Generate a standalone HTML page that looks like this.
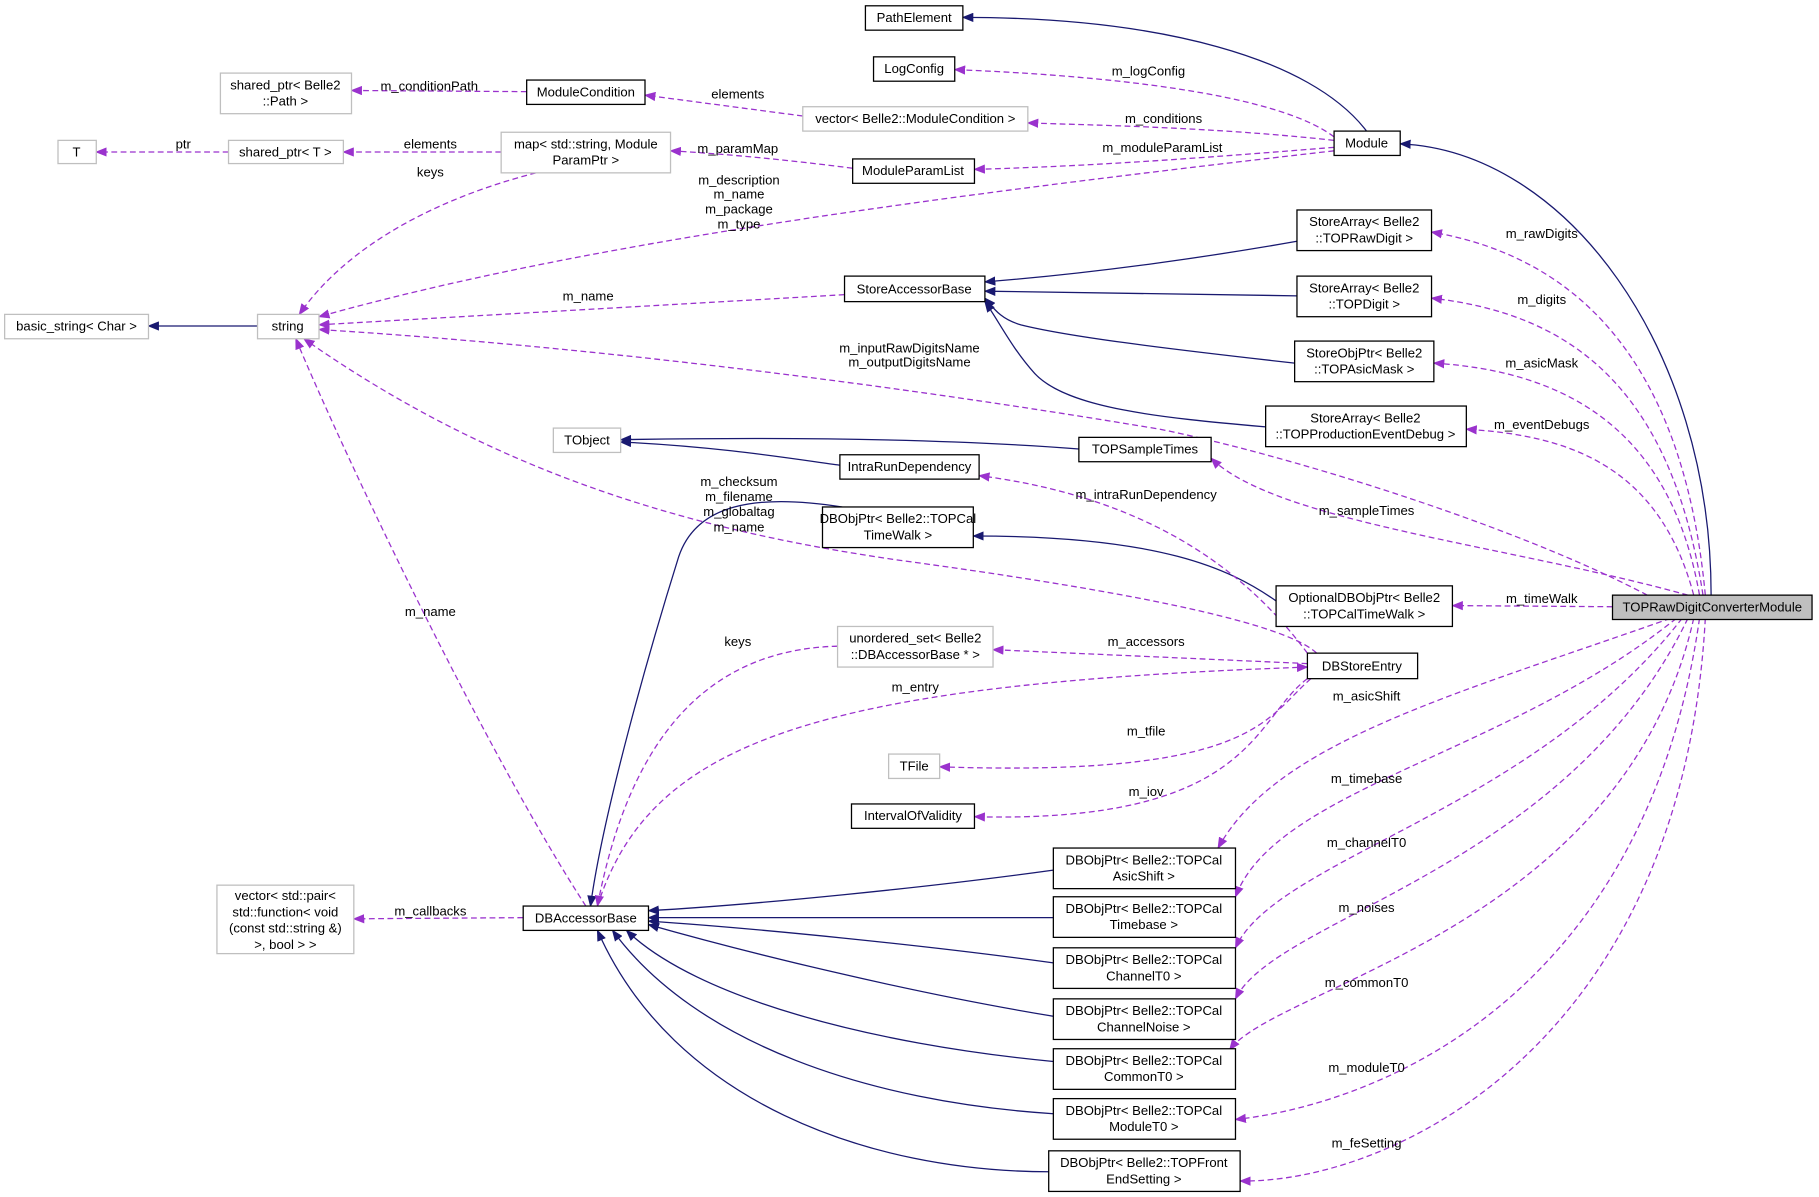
<!DOCTYPE html>
<html><head><meta charset="utf-8"><style>
html,body{margin:0;padding:0;background:#fff;}
svg{display:block;}
text{font-family:"Liberation Sans",sans-serif;font-size:11.3px;fill:#000;text-anchor:middle;}
.b{fill:#fff;stroke:#000;stroke-width:1.1;}
.g{fill:#fff;stroke:#bfbfbf;stroke-width:1.1;}
.n{fill:none;stroke:#191970;stroke-width:1.1;}
.p{fill:none;stroke:#9a32cd;stroke-width:1.1;stroke-dasharray:5,3;}
</style></head><body>
<svg width="1819" height="1197" viewBox="0 0 1568 1031.8" preserveAspectRatio="none" xmlns="http://www.w3.org/2000/svg">
<defs>
<marker id="an" markerWidth="10" markerHeight="8" refX="9" refY="4" orient="auto" markerUnits="userSpaceOnUse"><path d="M0,0 L10,4 L0,8 z" fill="#191970"/></marker>
<marker id="ap" markerWidth="10" markerHeight="8" refX="9" refY="4" orient="auto" markerUnits="userSpaceOnUse"><path d="M0,0 L10,4 L0,8 z" fill="#9a32cd"/></marker>
</defs>
<g class="n" marker-end="url(#an)">
<path d="M1178,113 C1130,50 1000,15 830,15"/>
<path d="M1475,513 C1475,300 1350,130 1207,124"/>
<path d="M1118,208 C1050,220 950,235 849,243"/>
<path d="M1118,255 L849,251"/>
<path d="M1116,313 C1000,300 920,290 880,280 C862,275 856,265 849,257"/>
<path d="M1091,368 C1000,360 920,352 892,322 C872,300 860,275 849,260"/>
<path d="M930,387 C800,377 650,377 535,379"/>
<path d="M724,401 C680,395 620,385 535,381"/>
<path d="M1100,518 C1060,490 1000,462 839,462"/>
<path d="M726,437 C650,425 600,435 585,480 C560,560 520,700 509,781"/>
<path d="M908,750 C800,765 650,780 559,785"/>
<path d="M908,791 L559,791"/>
<path d="M908,830 C800,815 650,800 559,794"/>
<path d="M908,876 C780,855 640,820 559,797"/>
<path d="M908,915 C750,900 600,860 540,802"/>
<path d="M908,960 C750,950 600,900 528,802"/>
<path d="M904,1010 C750,1010 580,950 515,802"/>
<path d="M222,281 L128,281"/>
</g>
<g class="p" marker-end="url(#ap)">
<path d="M1150,118 C1100,80 950,65 823,60"/>
<path d="M1150,121 C1050,110 950,108 886,106"/>
<path d="M692,100 L556,82"/>
<path d="M454,79 L303,78"/>
<path d="M1150,127 C1050,135 950,143 840,146"/>
<path d="M735,145 C680,138 630,133 578,130"/>
<path d="M432,131 L296,131"/>
<path d="M197,131 L83,131"/>
<path d="M462,149 C380,170 300,210 258,271"/>
<path d="M1150,130 C800,170 500,210 275,273"/>
<path d="M728,254 L275,280"/>
<path d="M1420,513 C1300,450 1100,390 1000,370 C700,320 450,295 275,284"/>
<path d="M1135,563 C1100,530 900,500 776,483 C600,458 430,410 262,292"/>
<path d="M505,781 C420,650 300,400 255,292"/>
<path d="M1470,513 C1450,300 1350,220 1234,200"/>
<path d="M1468,513 C1440,330 1350,270 1234,257"/>
<path d="M1465,513 C1440,370 1350,320 1236,313"/>
<path d="M1460,513 C1430,400 1350,375 1264,370"/>
<path d="M1455,513 C1300,470 1100,450 1044,395"/>
<path d="M1390,523 L1252,522"/>
<path d="M1127,563 C1080,500 1000,430 844,410"/>
<path d="M1127,572 L856,560"/>
<path d="M722,557 C600,560 540,650 515,781"/>
<path d="M515,781 C560,640 700,590 1127,575"/>
<path d="M1130,585 C1090,620 1080,670 810,661"/>
<path d="M1127,585 C1080,620 1080,710 840,704"/>
<path d="M451,791 L305,792"/>
<path d="M1440,533 C1250,600 1100,640 1050,731"/>
<path d="M1445,533 C1300,650 1100,680 1065,773"/>
<path d="M1450,533 C1320,700 1100,740 1065,817"/>
<path d="M1455,533 C1350,750 1100,790 1065,861"/>
<path d="M1460,533 C1400,800 1100,850 1060,905"/>
<path d="M1465,533 C1420,850 1200,950 1065,965"/>
<path d="M1470,533 C1450,900 1200,1020 1069,1018"/>
</g>
<rect class="b" x="746" y="5" width="84" height="21"/><text x="788" y="19">PathElement</text>
<rect class="b" x="753" y="49" width="70" height="21"/><text x="788" y="63">LogConfig</text>
<rect class="b" x="454" y="69" width="102" height="21"/><text x="505" y="83">ModuleCondition</text>
<rect class="g" x="190" y="63" width="113" height="35"/><text x="246" y="77">shared_ptr&lt; Belle2</text><text x="246" y="91">::Path &gt;</text>
<rect class="g" x="692" y="92" width="194" height="21"/><text x="789" y="106">vector&lt; Belle2::ModuleCondition &gt;</text>
<rect class="g" x="50" y="121" width="33" height="20"/><text x="66" y="135">T</text>
<rect class="g" x="197" y="121" width="99" height="20"/><text x="246" y="135">shared_ptr&lt; T &gt;</text>
<rect class="g" x="432" y="114" width="146" height="35"/><text x="505" y="128">map&lt; std::string, Module</text><text x="505" y="142">ParamPtr &gt;</text>
<rect class="b" x="735" y="137" width="105" height="21"/><text x="787" y="151">ModuleParamList</text>
<rect class="b" x="1150" y="113" width="57" height="21"/><text x="1178" y="127">Module</text>
<rect class="b" x="1118" y="181" width="116" height="35"/><text x="1176" y="195">StoreArray&lt; Belle2</text><text x="1176" y="209">::TOPRawDigit &gt;</text>
<rect class="b" x="728" y="238" width="121" height="22"/><text x="788" y="253">StoreAccessorBase</text>
<rect class="b" x="1118" y="238" width="116" height="35"/><text x="1176" y="252">StoreArray&lt; Belle2</text><text x="1176" y="266">::TOPDigit &gt;</text>
<rect class="g" x="4" y="271" width="124" height="21"/><text x="66" y="285">basic_string&lt; Char &gt;</text>
<rect class="g" x="222" y="271" width="53" height="21"/><text x="248" y="285">string</text>
<rect class="b" x="1116" y="294" width="120" height="35"/><text x="1176" y="308">StoreObjPtr&lt; Belle2</text><text x="1176" y="322">::TOPAsicMask &gt;</text>
<rect class="b" x="1091" y="350" width="173" height="35"/><text x="1177" y="364">StoreArray&lt; Belle2</text><text x="1177" y="378">::TOPProductionEventDebug &gt;</text>
<rect class="g" x="477" y="369" width="58" height="21"/><text x="506" y="383">TObject</text>
<rect class="b" x="930" y="377" width="114" height="21"/><text x="987" y="391">TOPSampleTimes</text>
<rect class="b" x="724" y="392" width="120" height="21"/><text x="784" y="406">IntraRunDependency</text>
<rect class="b" x="709" y="437" width="130" height="35"/><text x="774" y="451">DBObjPtr&lt; Belle2::TOPCal</text><text x="774" y="465">TimeWalk &gt;</text>
<rect class="b" x="1100" y="505" width="152" height="35"/><text x="1176" y="519">OptionalDBObjPtr&lt; Belle2</text><text x="1176" y="533">::TOPCalTimeWalk &gt;</text>
<rect x="1390" y="513" width="172" height="21" fill="#bfbfbf" stroke="#000" stroke-width="1.1"/><text x="1476" y="527">TOPRawDigitConverterModule</text>
<rect class="g" x="722" y="540" width="134" height="35"/><text x="789" y="554">unordered_set&lt; Belle2</text><text x="789" y="568">::DBAccessorBase * &gt;</text>
<rect class="b" x="1127" y="563" width="95" height="22"/><text x="1174" y="578">DBStoreEntry</text>
<rect class="g" x="766" y="650" width="44" height="21"/><text x="788" y="664">TFile</text>
<rect class="b" x="734" y="693" width="106" height="21"/><text x="787" y="707">IntervalOfValidity</text>
<rect class="b" x="908" y="731" width="157" height="35"/><text x="986" y="745">DBObjPtr&lt; Belle2::TOPCal</text><text x="986" y="759">AsicShift &gt;</text>
<rect class="b" x="908" y="773" width="157" height="35"/><text x="986" y="787">DBObjPtr&lt; Belle2::TOPCal</text><text x="986" y="801">Timebase &gt;</text>
<rect class="b" x="451" y="781" width="108" height="21"/><text x="505" y="795">DBAccessorBase</text>
<rect class="g" x="187" y="763" width="118" height="59"/><text x="246" y="776">vector&lt; std::pair&lt;</text><text x="246" y="790">std::function&lt; void</text><text x="246" y="804">(const std::string &amp;)</text><text x="246" y="818">&gt;, bool &gt; &gt;</text>
<rect class="b" x="908" y="817" width="157" height="35"/><text x="986" y="831">DBObjPtr&lt; Belle2::TOPCal</text><text x="986" y="845">ChannelT0 &gt;</text>
<rect class="b" x="908" y="861" width="157" height="35"/><text x="986" y="875">DBObjPtr&lt; Belle2::TOPCal</text><text x="986" y="889">ChannelNoise &gt;</text>
<rect class="b" x="908" y="904" width="157" height="35"/><text x="986" y="918">DBObjPtr&lt; Belle2::TOPCal</text><text x="986" y="932">CommonT0 &gt;</text>
<rect class="b" x="908" y="947" width="157" height="35"/><text x="986" y="961">DBObjPtr&lt; Belle2::TOPCal</text><text x="986" y="975">ModuleT0 &gt;</text>
<rect class="b" x="904" y="992" width="165" height="35"/><text x="986" y="1006">DBObjPtr&lt; Belle2::TOPFront</text><text x="986" y="1020">EndSetting &gt;</text>
<text x="990" y="65">m_logConfig</text>
<text x="1003" y="106">m_conditions</text>
<text x="636" y="85">elements</text>
<text x="370" y="78">m_conditionPath</text>
<text x="1002" y="131">m_moduleParamList</text>
<text x="636" y="132">m_paramMap</text>
<text x="371" y="128">elements</text>
<text x="158" y="128">ptr</text>
<text x="371" y="152">keys</text>
<text x="637" y="159">m_description</text><text x="637" y="171">m_name</text><text x="637" y="184">m_package</text><text x="637" y="197">m_type</text>
<text x="507" y="259">m_name</text>
<text x="784" y="304">m_inputRawDigitsName</text><text x="784" y="316">m_outputDigitsName</text>
<text x="637" y="419">m_checksum</text><text x="637" y="432">m_filename</text><text x="637" y="445">m_globaltag</text><text x="637" y="458">m_name</text>
<text x="371" y="531">m_name</text>
<text x="1329" y="205">m_rawDigits</text>
<text x="1329" y="262">m_digits</text>
<text x="1329" y="317">m_asicMask</text>
<text x="1329" y="370">m_eventDebugs</text>
<text x="1178" y="444">m_sampleTimes</text>
<text x="1329" y="520">m_timeWalk</text>
<text x="988" y="430">m_intraRunDependency</text>
<text x="988" y="557">m_accessors</text>
<text x="636" y="557">keys</text>
<text x="789" y="596">m_entry</text>
<text x="988" y="634">m_tfile</text>
<text x="988" y="686">m_iov</text>
<text x="371" y="789">m_callbacks</text>
<text x="1178" y="604">m_asicShift</text>
<text x="1178" y="675">m_timebase</text>
<text x="1178" y="730">m_channelT0</text>
<text x="1178" y="786">m_noises</text>
<text x="1178" y="851">m_commonT0</text>
<text x="1178" y="924">m_moduleT0</text>
<text x="1178" y="989">m_feSetting</text>
</svg>
</body></html>
